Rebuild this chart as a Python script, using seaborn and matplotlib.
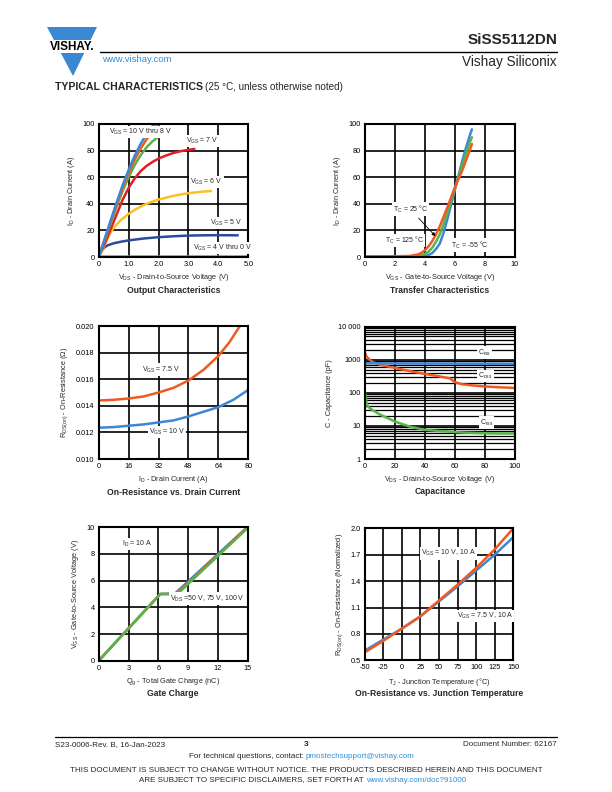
import matplotlib
matplotlib.use("Agg")
import matplotlib.pyplot as plt
import seaborn as sns
from matplotlib.patches import Polygon, Rectangle
from matplotlib.lines import Line2D
from matplotlib.ticker import LogLocator, NullFormatter

sns.set_style("white")
plt.rcParams['font.family'] = ['Liberation Sans', 'DejaVu Sans']
plt.rcParams['mathtext.fontset'] = 'custom'
plt.rcParams['mathtext.rm'] = 'Liberation Sans'
plt.rcParams['mathtext.it'] = 'Liberation Sans:italic'
plt.rcParams['mathtext.bf'] = 'Liberation Sans:bold'
plt.rcParams['mathtext.default'] = 'regular'
plt.rcParams['axes.unicode_minus'] = False

# ---- output characteristics (Vds, Id)
vds_10 = [0, 0.2, 0.4, 0.6, 0.8, 1.0, 1.2, 1.4, 1.6, 1.8, 1.9]
id_10 = [0, 13.5, 27.5, 41, 54, 65.5, 76, 85, 92.5, 98.5, 100]
vds_9 = [0, 0.2, 0.4, 0.6, 0.8, 1.0, 1.2, 1.4, 1.6, 1.8, 2.0]
id_9 = [0, 13, 26.5, 39.5, 52, 63, 73, 81.5, 88.5, 94.5, 100]
vds_8 = [0, 0.2, 0.4, 0.6, 0.8, 1.0, 1.2, 1.4, 1.6, 1.8, 2.0]
id_8 = [0, 12.5, 25.5, 38, 49.5, 60, 69, 76.5, 82.5, 87, 90.5]
vds_7 = [0, 0.2, 0.4, 0.6, 0.8, 1.0, 1.2, 1.4, 1.6, 1.8, 2.0, 2.25, 2.5, 2.75, 3.0, 3.2]
id_7 = [0, 10, 21, 32, 43, 52, 59, 64.5, 68.5, 71.5, 74, 76.3, 78.2, 79.6, 80.6, 81.2]
vds_6 = [0, 0.1, 0.2, 0.3, 0.4, 0.5, 0.75, 1.0, 1.25, 1.5, 1.75, 2.0, 2.5, 3.0, 3.5, 3.75]
id_6 = [0, 4, 9, 14, 18.5, 22, 28, 32.5, 36, 39, 41.3, 43.2, 46, 48, 49.2, 49.6]
vds_5 = [0, 0.05, 0.1, 0.2, 0.3, 0.5, 0.75, 1.0, 1.5, 2.0, 2.5, 3.0, 3.5, 4.0, 4.65]
id_5 = [0, 3, 5, 7.3, 8.8, 10.3, 11.5, 12.5, 13.9, 14.9, 15.6, 16.1, 16.3, 16.4, 16.3]
vds_4 = [0, 1, 2, 3, 4, 5]
id_4 = [0.8, 0.8, 0.8, 0.8, 0.8, 0.8]
id_0 = [0, 0, 0, 0, 0, 0]

# ---- transfer characteristics (Vgs, Id)
vgs_t = [0, 1, 2, 3, 3.5, 3.75, 4, 4.25, 4.5, 4.75, 5, 5.25, 5.5, 5.75, 6, 6.25, 6.5, 6.75, 7, 7.15]
id_125 = [0.5, 0.5, 0.5, 0.8, 1.8, 3, 5, 8, 12, 17, 23, 30, 37, 44.5, 52, 58.5, 65, 72.5, 80, 85]
id_25 = [0.3, 0.3, 0.3, 0.4, 0.8, 1.3, 2.2, 4, 7, 11.5, 17, 24.5, 33, 42, 51, 60, 69, 77.5, 86, 90]
id_m55 = [0.2, 0.2, 0.2, 0.2, 0.3, 0.4, 0.6, 1.5, 3, 6, 10, 18, 28, 39, 50, 61, 72, 82, 91, 96]

# ---- on-resistance vs drain current
id_r = [0, 8, 16, 24, 32, 40, 48, 56, 64, 70, 75.5]
r_75 = [0.0144, 0.01445, 0.01455, 0.0147, 0.0150, 0.01535, 0.0159, 0.0167, 0.01775, 0.0188, 0.0200]
id_r10 = [0, 8, 16, 24, 32, 40, 48, 56, 64, 72, 80]
r_10 = [0.01235, 0.0124, 0.0125, 0.0126, 0.01275, 0.0129, 0.0132, 0.01355, 0.0139, 0.01445, 0.0152]

# ---- capacitance (Vds, pF)
vds_c = [0, 1, 2, 5, 10, 20, 30, 40, 50, 57, 60, 65, 70, 80, 90, 100]
c_iss = [790, 785, 780, 780, 775, 770, 765, 760, 760, 758, 755, 755, 752, 750, 748, 745]
c_oss = [1600, 1250, 1100, 850, 700, 560, 450, 370, 310, 270, 210, 180, 170, 155, 146, 140]
c_rss = [100, 50, 38, 30, 22, 13.5, 9.5, 7.6, 7.0, 6.7, 6.5, 6.3, 6.2, 6.0, 5.9, 5.9]

# ---- gate charge (Qg, Vgs)
qg_50 = [0, 6.2, 7.7, 15]
vg_50 = [0, 5.0, 5.05, 10.05]
qg_75 = [0, 6.2, 7.8, 15]
vg_75 = [0, 5.0, 5.0, 10.0]
qg_100 = [0, 6.2, 7.9, 15]
vg_100 = [0, 5.0, 4.98, 9.95]

# ---- on-resistance vs junction temperature
tj = [-50, -25, 0, 25, 50, 75, 100, 125, 150]
rn_10 = [0.61, 0.735, 0.86, 1.0, 1.17, 1.34, 1.52, 1.70, 1.90]
rn_75 = [0.59, 0.72, 0.86, 1.0, 1.18, 1.36, 1.55, 1.76, 2.0]

BLUE = '#3d87d6'
ORANGE = '#f05a22'
GREEN = '#55b546'
RED = '#e01f26'
YELLOW = '#fcc020'
NAVY = '#2b4a9c'

W, H = 612, 792
fig = plt.figure(figsize=(6.12, 7.92), dpi=100)


def px_ax(x0, x1, y0, y1):
    return fig.add_axes([x0 / W, 1 - y1 / H, (x1 - x0) / W, (y1 - y0) / H])


def style(ax, xlim, ylim, xticks, yticks, xlab, ylab, title, xfmt=None, yfmt=None):
    ax.set_xlim(xlim)
    ax.set_ylim(ylim)
    ax.set_xticks(xticks)
    ax.set_yticks(yticks)
    if xfmt is not None:
        ax.set_xticklabels(xfmt)
    if yfmt is not None:
        ax.set_yticklabels(yfmt)
    ax.set_axisbelow(True)
    ax.grid(True, color='black', lw=1.2)
    for s in ax.spines.values():
        s.set_color('black')
        s.set_linewidth(1.5)
    ax.tick_params(length=0, labelsize=5.3, pad=3, colors='black')
    ax.set_xlabel(xlab, fontsize=5.3, labelpad=3)
    ax.set_ylabel(ylab, fontsize=5.3, labelpad=4)
    ax.set_title(title, fontsize=6.2, fontweight='bold', y=-0.33)
    if ax.get_legend() is not None:
        ax.get_legend().remove()


def lab(ax, x, y, s, **kw):
    ax.text(x, y, s, fontsize=5.0, va='center', ha='left',
            bbox=dict(fc='white', ec='none', pad=0.8), zorder=5, **kw)


LW = 1.8

# Output characteristics
ax1 = px_ax(98.7, 248.3, 124, 257)
for x, y, c in [(vds_4, id_0, '#9b3c8c'), (vds_4, id_4, '#5aa6a8'),
                (vds_5, id_5, NAVY), (vds_6, id_6, YELLOW), (vds_7, id_7, RED),
                (vds_8, id_8, GREEN), (vds_9, id_9, ORANGE), (vds_10, id_10, BLUE)]:
    sns.lineplot(x=x, y=y, ax=ax1, color=c, lw=LW)
style(ax1, (0, 5), (0, 100), [0, 1, 2, 3, 4, 5], range(0, 101, 20),
      r'V$_{DS}$ - Drain-to-Source Voltage (V)', r'I$_D$ - Drain Current (A)',
      'Output Characteristics', xfmt=['0', '1.0', '2.0', '3.0', '4.0', '5.0'])
lab(ax1, 0.34, 94, r'V$_{GS}$ = 10 V thru 8 V')
lab(ax1, 2.92, 87.4, r'V$_{GS}$ = 7 V')
lab(ax1, 3.05, 56.6, r'V$_{GS}$ = 6 V')
lab(ax1, 3.72, 25.6, r'V$_{GS}$ = 5 V')
lab(ax1, 3.15, 6.8, r'V$_{GS}$ = 4 V thru 0 V')

# Transfer characteristics
ax2 = px_ax(365, 514.5, 124, 257)
for y, c in [(id_m55, BLUE), (id_25, GREEN), (id_125, ORANGE)]:
    sns.lineplot(x=vgs_t, y=y, ax=ax2, color=c, lw=LW)
style(ax2, (0, 10), (0, 100), range(0, 11, 2), range(0, 101, 20),
      r'V$_{GS}$ - Gate-to-Source Voltage (V)', r'I$_D$ - Drain Current (A)',
      'Transfer Characteristics')
lab(ax2, 1.87, 36.1, r'T$_C$ = 25 °C')
lab(ax2, 1.34, 12.3, r'T$_C$ = 125 °C')
lab(ax2, 5.75, 9.0, r'T$_C$ = -55 °C')
ax2.annotate('', xy=(4.84, 14.1), xytext=(3.46, 30.8), zorder=6,
             arrowprops=dict(arrowstyle='-|>', color='black', lw=0.6,
                             mutation_scale=5))

# On-resistance vs drain current
ax3 = px_ax(98.7, 248.3, 326, 459)
sns.lineplot(x=id_r, y=r_75, ax=ax3, color=ORANGE, lw=LW)
sns.lineplot(x=id_r10, y=r_10, ax=ax3, color=BLUE, lw=LW)
yt3 = [0.010, 0.012, 0.014, 0.016, 0.018, 0.020]
style(ax3, (0, 80), (0.010, 0.020), range(0, 81, 16), yt3,
      r'I$_D$ - Drain Current (A)', r'R$_{DS(on)}$ - On-Resistance (Ω)',
      'On-Resistance vs. Drain Current', yfmt=[f'{v:.3f}' for v in yt3])
lab(ax3, 23, 0.01673, r'V$_{GS}$ = 7.5 V')
lab(ax3, 26.9, 0.01205, r'V$_{GS}$ = 10 V')

# Capacitance
ax4 = px_ax(365, 514.5, 326.5, 459)
ax4.set_yscale('log')
for y, c in [(c_rss, GREEN), (c_oss, ORANGE), (c_iss, BLUE)]:
    sns.lineplot(x=vds_c, y=y, ax=ax4, color=c, lw=LW)
style(ax4, (0, 100), (1, 10000), range(0, 101, 20), [1, 10, 100, 1000, 10000],
      r'V$_{DS}$ - Drain-to-Source Voltage (V)', 'C - Capacitance (pF)',
      'Capacitance', yfmt=['1', '10', '100', '1000', '10 000'])
ax4.yaxis.set_minor_locator(LogLocator(base=10, subs=range(2, 10)))
ax4.yaxis.set_minor_formatter(NullFormatter())
ax4.tick_params(which='minor', length=0)
ax4.grid(True, which='minor', axis='y', color='black', lw=0.9)
lab(ax4, 75.7, 1640, r'C$_{iss}$')
lab(ax4, 75.7, 324, r'C$_{oss}$')
lab(ax4, 76.8, 12.6, r'C$_{rss}$')

# Gate charge
ax5 = px_ax(98.7, 247.7, 527.3, 660.7)
for x, y, c in [(qg_50, vg_50, BLUE), (qg_75, vg_75, ORANGE), (qg_100, vg_100, GREEN)]:
    sns.lineplot(x=x, y=y, ax=ax5, color=c, lw=LW)
style(ax5, (0, 15), (0, 10), range(0, 16, 3), range(0, 11, 2),
      r'Q$_g$ - Total Gate Charge (nC)', r'V$_{GS}$ - Gate-to-Source Voltage (V)',
      'Gate Charge')
lab(ax5, 2.32, 8.73, r'I$_D$ = 10 A')
lab(ax5, 7.18, 4.65, r'V$_{DS}$ =50 V, 75 V, 100 V')

# On-resistance vs junction temperature
ax6 = px_ax(364.7, 513.3, 528.3, 660.3)
sns.lineplot(x=tj, y=rn_10, ax=ax6, color=BLUE, lw=LW)
sns.lineplot(x=tj, y=rn_75, ax=ax6, color=ORANGE, lw=LW)
style(ax6, (-50, 150), (0.5, 2.0), range(-50, 151, 25), [0.5, 0.8, 1.1, 1.4, 1.7, 2.0],
      r'T$_J$ - Junction Temperature (°C)', r'R$_{DS(on)}$ - On-Resistance (Normalized)',
      'On-Resistance vs. Junction Temperature')
lab(ax6, 25.8, 1.716, r'V$_{GS}$ = 10 V, 10 A')
lab(ax6, 73.8, 1.003, r'V$_{GS}$ = 7.5 V, 10 A')


# ---- header
def P(x, y):
    return (x / W, 1 - y / H)


fig.add_artist(Polygon([P(47, 27), P(97, 27), P(73, 76)], closed=True,
                       transform=fig.transFigure, fc='#3a88d2', ec='none'))
fig.add_artist(Rectangle(P(44, 53), 56 / W, 13 / H, transform=fig.transFigure,
                         fc='white', ec='none'))
fig.text(*P(72, 46.5), 'VISHAY.', fontsize=8.5, fontweight='bold', ha='center',
         va='center', color='black')
fig.add_artist(Line2D([100 / W, 557 / W], [1 - 52 / H] * 2, color='black', lw=1.0))
fig.text(*P(102, 59), 'www.vishay.com', fontsize=6.8, color='#2e8fd8', va='center')
fig.text(*P(557, 40), 'SiSS5112DN', fontsize=11, fontweight='bold', ha='right', va='center')
fig.text(*P(557, 62), 'Vishay Siliconix', fontsize=9.8, ha='right', va='center')
fig.text(*P(55, 87), 'TYPICAL CHARACTERISTICS', fontsize=7.6, fontweight='bold', va='center')
fig.text(*P(205, 87), '(25 °C, unless otherwise noted)', fontsize=7.1, va='center')

# ---- footer
fig.add_artist(Line2D([55 / W, 557 / W], [1 - 737 / H] * 2, color='black', lw=0.9))
fig.text(*P(55, 745), 'S23-0006-Rev. B, 16-Jan-2023', fontsize=5.8, va='center')
fig.text(*P(306, 745), '3', fontsize=6, fontweight='bold', ha='center', va='center')
fig.text(*P(557, 745), 'Document Number: 62167', fontsize=5.8, ha='right', va='center')
fig.text(*P(306, 757), 'For technical questions, contact: ', fontsize=5.8, ha='right', va='center')
fig.text(*P(306, 757), 'pmostechsupport@vishay.com', fontsize=5.8, ha='left', va='center',
         color='#2e8fd8')
fig.text(*P(306, 771), 'THIS DOCUMENT IS SUBJECT TO CHANGE WITHOUT NOTICE. THE PRODUCTS '
         'DESCRIBED HEREIN AND THIS DOCUMENT', fontsize=5.8, ha='center', va='center')
fig.text(*P(366, 780), 'ARE SUBJECT TO SPECIFIC DISCLAIMERS, SET FORTH AT ', fontsize=5.8,
         ha='right', va='center')
fig.text(*P(366, 780), 'www.vishay.com/doc?91000', fontsize=5.8, ha='left', va='center',
         color='#2e8fd8')

fig.savefig('out.png', dpi=100)
